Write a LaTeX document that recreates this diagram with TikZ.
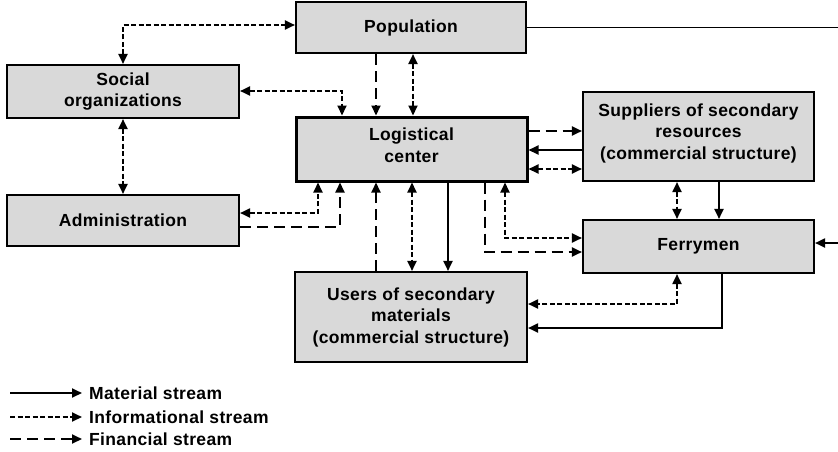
\documentclass[tikz,border=0pt]{standalone}
\usepackage{fontspec}
\setmainfont[LetterSpace=2.0]{Liberation Sans}
\usetikzlibrary{arrows.meta}
\definecolor{boxgray}{HTML}{D9D9D9}
\begin{document}
\begin{tikzpicture}[x=1pt,y=-1pt,
  >={Triangle[length=10pt,width=9pt]},
  box/.style={draw, line width=2.1pt, fill=boxgray, align=center, inner sep=0pt,
    font=\bfseries\fontsize{17.5}{21.5}\selectfont},
  mat/.style={line width=1.9pt},
  inf/.style={line width=1.9pt, dash pattern=on 5pt off 2.5pt},
  fin/.style={line width=1.9pt, dash pattern=on 11pt off 6pt},
  leg/.style={anchor=west, inner xsep=7pt, inner ysep=0pt, font=\bfseries\fontsize{17.5}{21}\selectfont}
]
\useasboundingbox (0,0) rectangle (838,451);

% boxes
\node[box, minimum width=230pt, minimum height=51pt] (pop) at (411,27.5) {Population};
\node[box, minimum width=232pt, minimum height=53pt] (soc) at (123,91.5) {Social\\organizations};
\node[box, minimum width=232pt, minimum height=51pt] (adm) at (123,220.5) {Administration};
\node[box, line width=3pt, minimum width=231pt, minimum height=64pt, text depth=8pt] (log) at (411.5,149) {Logistical\\center};
\node[box, minimum width=231pt, minimum height=89pt, text depth=10pt] (sup) at (698.5,136.5) {Suppliers of secondary\\resources\hspace*{36pt}\\(commercial structure)};
\node[box, minimum width=231pt, minimum height=53pt] (fer) at (698.5,246.5) {Ferrymen};
\node[box, minimum width=232pt, minimum height=90pt] (usr) at (411,317) {Users of secondary\\materials\\(commercial structure)};

% connectors
\draw[mat,->] (pop.east) -- (850,27.5) -- (850,243) -- (fer.east |- 0,243);
\draw[inf,<->] (soc.north) -- (123,25) -- (pop.west |- 0,25);
\draw[inf,<->] (soc.south) -- (adm.north);
\draw[inf,<->] (soc.east |- 0,91) -- (342,91) -- (log.north -| 342,0);
\draw[fin,->] (pop.south -| 376,0) -- (log.north -| 376,0);
\draw[inf,<->] (pop.south -| 413,0) -- (log.north -| 413,0);

\draw[fin,->] (log.east |- 0,131) -- (sup.west |- 0,131);
\draw[mat,->] (sup.west |- 0,150) -- (log.east |- 0,150);
\draw[inf,<->] (log.east |- 0,169) -- (sup.west |- 0,169);

\draw[inf,<->] (adm.east |- 0,213) -- (318,213) -- (log.south -| 318,0);
\draw[fin,->] (adm.east |- 0,227) -- (340,227) -- (log.south -| 340,0);

\draw[fin,->] (usr.north -| 376,0) -- (log.south -| 376,0);
\draw[inf,<->] (log.south -| 412,0) -- (usr.north -| 412,0);
\draw[mat,->] (log.south -| 448,0) -- (usr.north -| 448,0);

\draw[fin,->] (log.south -| 485,0) -- (485,252) -- (fer.west |- 0,252);
\draw[inf,<->] (log.south -| 505,0) -- (505,238) -- (fer.west |- 0,238);

\draw[inf,<->] (sup.south -| 677,0) -- (fer.north -| 677,0);
\draw[mat,->] (sup.south -| 719,0) -- (fer.north -| 719,0);

\draw[inf,<->] (fer.south -| 677,0) -- (677,304) -- (usr.east |- 0,304);
\draw[mat,->] (fer.south -| 722,0) -- (722,328) -- (usr.east |- 0,328);

% legend
\coordinate (l1) at (10,393);
\coordinate (l2) at (10,417);
\coordinate (l3) at (10,439);
\node[leg] (t1) at (82,393) {Material stream};
\node[leg] (t2) at (82,417) {Informational stream};
\node[leg] (t3) at (82,439) {Financial stream};
\draw[mat,->] (l1) -- (t1.west);
\draw[inf,->] (l2) -- (t2.west);
\draw[fin,->] (l3) -- (t3.west);
\end{tikzpicture}
\end{document}
